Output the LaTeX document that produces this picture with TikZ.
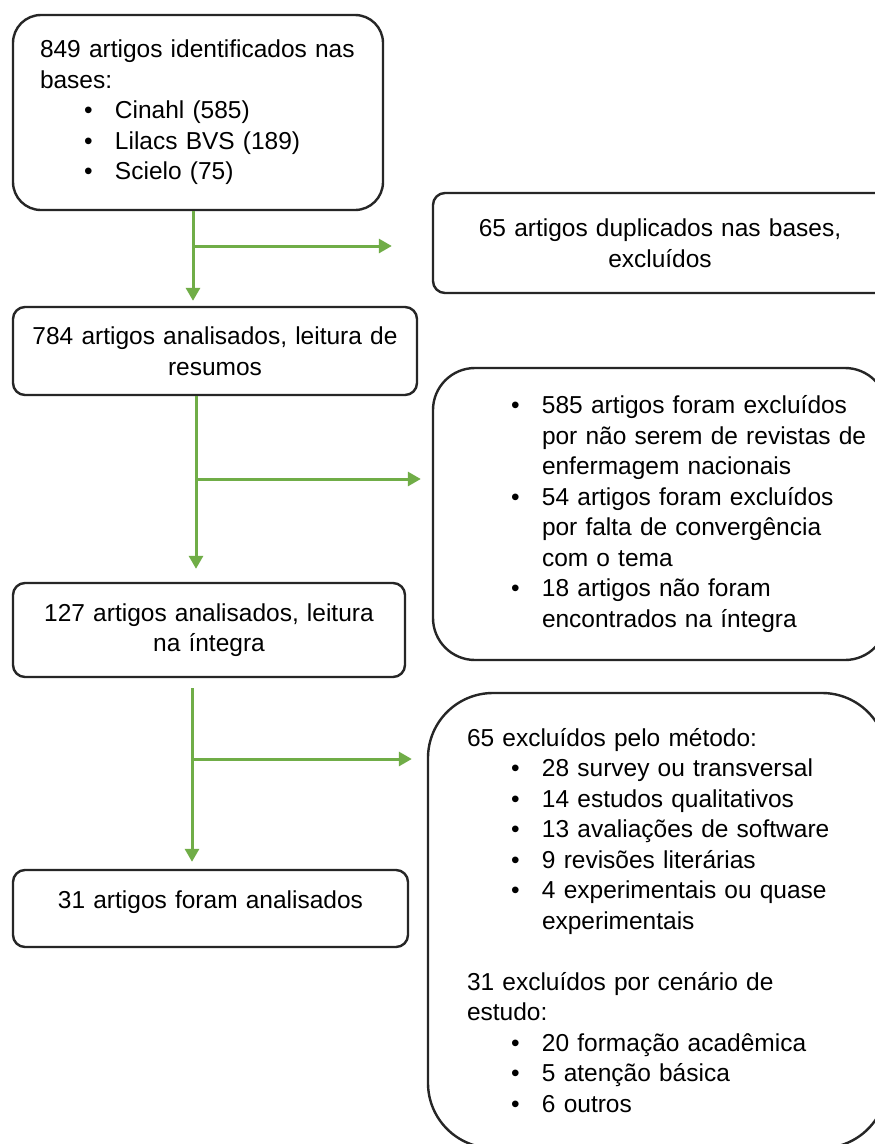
\documentclass[tikz,border=0pt]{standalone}
\usepackage{fontspec}
\setmainfont{Liberation Sans}
\usetikzlibrary{arrows.meta}

\definecolor{flowgreen}{HTML}{70AD47}

% bullet line and its continuation
\newcommand{\bl}[1]{\mbox{\hspace{44pt}\makebox[31pt][l]{•}#1}}
\newcommand{\bc}[1]{\mbox{\hspace{75pt}#1}}

\tikzset{
  box/.style={draw=black!85,line width=2.4pt,fill=white,
              inner ysep=0pt,font=\fontsize{24.5}{30.5}\selectfont},
  flow/.style={draw=flowgreen,line width=3pt,
               -{Triangle[length=13pt,width=14pt]}}
}

\begin{document}
\begin{tikzpicture}[x=1pt,y=-1pt]
  % --- Page ---
  \path[use as bounding box,fill=white] (0,0) rectangle (875,1144);

  % --- Main column ---
  \node[box,rounded corners=28pt,minimum width=370pt,minimum height=195pt,
        inner xsep=27pt,text width=316pt,align=left] (src) at (198,112.5)
       {849 artigos identificados nas\\
        bases:\\
        \bl{Cinahl (585)}\\
        \bl{Lilacs BVS (189)}\\
        \bl{Scielo (75)}};

  \node[box,rounded corners=12pt,minimum width=404pt,minimum height=88pt,
        inner xsep=12pt,text width=380pt,align=center] (res) at (215,351)
       {784 artigos analisados, leitura de\\ resumos};

  \node[box,rounded corners=12pt,minimum width=392pt,minimum height=94pt,
        inner xsep=12pt,text width=368pt,align=center] (int) at (209,630)
       {127 artigos analisados, leitura\\ na íntegra};

  \node[box,rounded corners=12pt,minimum width=395pt,minimum height=77pt,
        inner xsep=12pt,text width=371pt,text depth=18pt,align=center]
       (fin) at (210.5,908.5) {31 artigos foram analisados};

  % --- Excluded ---
  \node[box,rounded corners=12pt,minimum width=454pt,minimum height=100pt,
        inner xsep=12pt,text width=430pt,align=center] (dup) at (660,243)
       {65 artigos duplicados nas bases,\\ excluídos};

  \node[box,rounded corners=42pt,minimum width=454pt,minimum height=292pt,
        inner xsep=34pt,text width=386pt,align=left] (exa) at (660,514)
       {\bl{585 artigos foram excluídos}\\
        \bc{por não serem de revistas de}\\
        \bc{enfermagem nacionais}\\
        \bl{54 artigos foram excluídos}\\
        \bc{por falta de convergência}\\
        \bc{com o tema}\\
        \bl{18 artigos não foram}\\
        \bc{encontrados na íntegra}};

  \node[box,rounded corners=65pt,minimum width=459pt,minimum height=455pt,
        inner xsep=39pt,text width=381pt,align=left] (exb) at (657.5,920.5)
       {65 excluídos pelo método:\\
        \bl{28 survey ou transversal}\\
        \bl{14 estudos qualitativos}\\
        \bl{13 avaliações de software}\\
        \bl{9 revisões literárias}\\
        \bl{4 experimentais ou quase}\\
        \bc{experimentais}\\[30.5pt]
        31 excluídos por cenário de\\
        estudo:\\
        \bl{20 formação acadêmica}\\
        \bl{5 atenção básica}\\
        \bl{6 outros}};

  % --- Junctions ---
  \coordinate (j1) at (193,246);
  \coordinate (j2) at (196,479);
  \coordinate (j3) at (192,759);

  % --- Arrows ---
  \draw[flow,shorten >=5pt] (src.south -| j1) -- (res.north -| j1);
  \draw[flow,shorten >=40pt] (j1) -- (dup.west |- j1);

  \draw[flow,shorten >=13pt] (res.south -| j2) -- (int.north -| j2);
  \draw[flow,shorten >=11pt] (j2) -- (exa.west |- j2);

  \draw[flow,shorten <=10pt,shorten >=7pt] (int.south -| j3) -- (fin.north -| j3);
  \draw[flow,shorten >=15pt] (j3) -- (exb.west |- j3);
\end{tikzpicture}
\end{document}
